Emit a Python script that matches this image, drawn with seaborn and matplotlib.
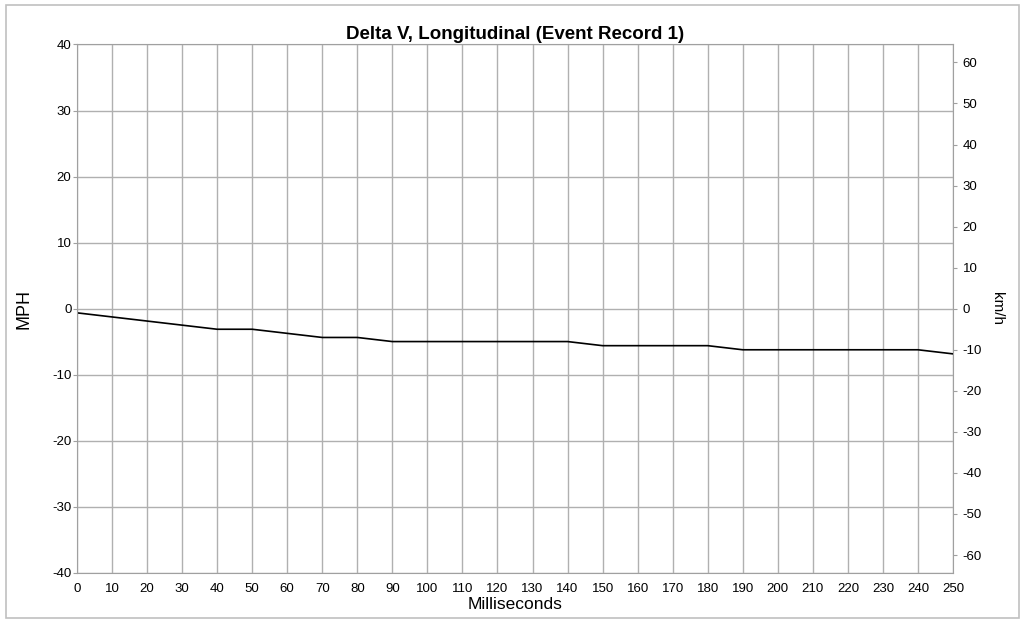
import numpy as np
import pandas as pd
import matplotlib
matplotlib.use("Agg")
import matplotlib.pyplot as plt
import seaborn as sns
from matplotlib.patches import Rectangle

# Delta V samples (ms, km/h as recorded -> mph)
time_ms = [0, 10, 20, 30, 40, 50, 60, 70, 80, 90, 100, 110, 120, 130, 140,
           150, 160, 170, 180, 190, 200, 210, 220, 230, 240, 250]
delta_v_kmh = [-1, -2, -3, -4, -5, -5, -6, -7, -7, -8, -8, -8, -8, -8, -8,
               -9, -9, -9, -9, -10, -10, -10, -10, -10, -10, -11]
KMH_PER_MPH = 1.609344
delta_v_mph = [v / KMH_PER_MPH for v in delta_v_kmh]

x_ticks = list(range(0, 251, 10))
mph_ticks = list(range(-40, 41, 10))
kmh_ticks = list(range(-60, 61, 10))

df = pd.DataFrame({"ms": time_ms, "mph": delta_v_mph})

sns.set_style("white")
plt.rcParams["font.family"] = ["Liberation Sans", "DejaVu Sans"]
plt.rcParams["axes.unicode_minus"] = False
plt.rcParams["text.color"] = "black"
plt.rcParams["axes.labelcolor"] = "black"
plt.rcParams["xtick.color"] = "black"
plt.rcParams["ytick.color"] = "black"

fig = plt.figure(figsize=(10.25, 6.23), dpi=100)
ax = fig.add_axes([0.0751, 0.0803, 0.8547, 0.8483])

sns.lineplot(data=df, x="ms", y="mph", ax=ax, color="black", linewidth=1.2)

ax.set_xlim(0, 250)
ax.set_ylim(-40, 40)
ax.set_xticks(x_ticks)
ax.set_yticks(mph_ticks)
ax.grid(True, color="#b0b0b0", linewidth=1.0)
ax.set_axisbelow(True)
for s in ax.spines.values():
    s.set_color("#a0a0a0")
ax.tick_params(axis="y", labelsize=9.5, length=3, color="#a0a0a0",
               labelcolor="black", pad=1)
ax.tick_params(axis="x", labelsize=9.5, length=3, color="#a0a0a0",
               labelcolor="black", pad=4)
ax.set_xlabel("Milliseconds", fontsize=12.5, labelpad=2)
ax.set_ylabel("MPH", fontsize=13, labelpad=14)
ax.set_title("Delta V, Longitudinal (Event Record 1)", fontsize=13.5,
             fontweight="bold", pad=4)

ax2 = ax.twinx()
ax2.set_ylim(-40 * KMH_PER_MPH, 40 * KMH_PER_MPH)
ax2.set_yticks(kmh_ticks)
for s in ax2.spines.values():
    s.set_visible(False)
ax2.tick_params(axis="y", labelsize=9.5, length=3, color="#a0a0a0",
                labelcolor="black", pad=4)
ax2.set_ylabel("km/h", fontsize=11, rotation=270, labelpad=16)

fig.patches.append(Rectangle((0.006, 0.008), 0.988, 0.984, transform=fig.transFigure,
                             fill=False, edgecolor="#c0c0c0", linewidth=1.2))

fig.savefig("out.png", dpi=100)
